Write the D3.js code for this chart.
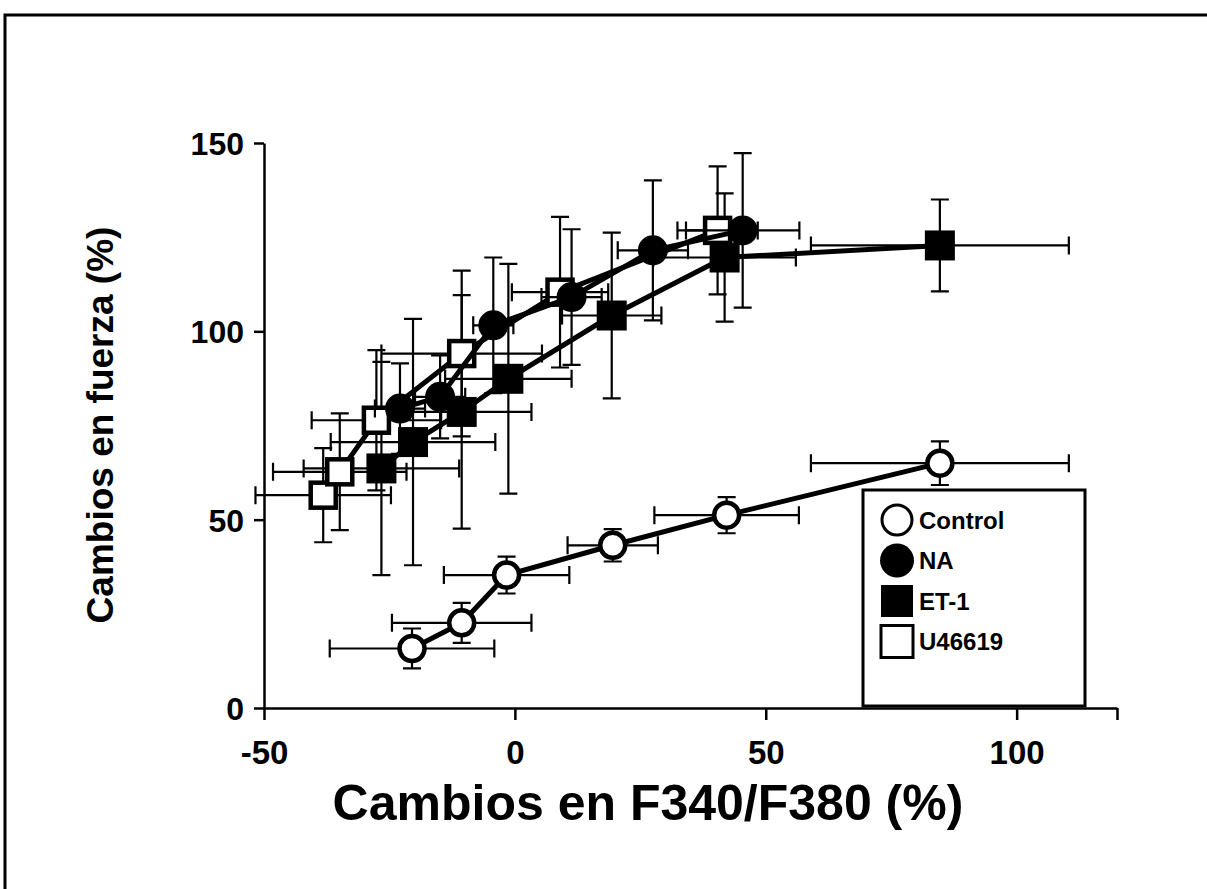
<!DOCTYPE html>
<html><head><meta charset="utf-8">
<script src="https://cdn.jsdelivr.net/npm/d3@7"></script>
<style>body{margin:0;background:#fff}svg{display:block}text{font-family:"Liberation Sans",Arial,sans-serif;font-weight:bold;fill:#000}</style>
</head><body>
<script>
// Data: [x, y, xErr, yErr]
const controlData = [[-20.5,15.8,16.4,5.3],[-10.6,22.6,13.9,5.3],[-1.65,35.3,12.5,4.9],[19.5,43.2,9,4.3],[42.2,51.2,14.4,4.8],[84.7,65.0,25.7,5.8]];
const naData = [[-22.9,79.5,5,12],[-14.9,82.6,5,11],[-4.3,101.6,4,18],[11.3,109.1,6,18],[27.5,121.5,7,18.6],[45.4,126.8,11.3,20.5]];
const et1Data = [[-26.6,63.6,15.5,28.3],[-20.3,70.6,16.4,32.7],[-10.6,78.6,13.9,31],[-1.3,87.4,12.6,30.5],[19.3,104.2,9.9,22],[41.8,119.6,14.2,17],[84.7,122.8,25.7,12.2]];
const u46619Data = [[-38.2,56.5,13.5,12.5],[-34.9,62.7,13.3,15.5],[-27.6,76.4,12.9,18.6],[-10.6,94.1,16,22],[9.0,110.4,9.6,20],[40.4,126.8,8,17]];
const xTicks = [-50,0,50,100];
const yTicks = [0,50,100,150];
const seriesNames = ["Control","NA","ET-1","U46619"];
const xLabel = "Cambios en F340/F380 (%)";
const yLabel = "Cambios en fuerza (%)";

const W=1207,H=889;
const svg=d3.select("body").append("svg").attr("width",W).attr("height",H);
svg.append("path").attr("d","M5,889V15H1207").attr("fill","none").attr("stroke","#000").attr("stroke-width",3);

const x=d3.scaleLinear().domain([-50,120]).range([264,1117]);
const y=d3.scaleLinear().domain([0,150]).range([708,143]);

const xAxis=svg.append("g").attr("transform","translate(0,708)")
  .call(d3.axisBottom(x).tickValues([...xTicks,120]).tickSize(12).tickSizeOuter(0).tickFormat(d=>xTicks.includes(d)?d:""));
const yAxis=svg.append("g").attr("transform","translate(264,0)")
  .call(d3.axisLeft(y).tickValues(yTicks).tickSize(10).tickSizeOuter(0));
[xAxis,yAxis].forEach(a=>{a.select(".domain").attr("stroke","#000").attr("stroke-width",2.5);
  a.selectAll(".tick line").attr("stroke","#000").attr("stroke-width",2.5);
  a.selectAll("text").style("font-family",'"Liberation Sans",Arial,sans-serif').style("font-weight","bold").attr("fill","#000");});
xAxis.selectAll("text").attr("font-size",33).attr("dy",null).attr("y",56);
yAxis.selectAll("text").attr("font-size",32).attr("x",-20).attr("dy","0.36em");

svg.append("text").attr("x",648).attr("y",820).attr("text-anchor","middle").attr("font-size",50).text(xLabel);
svg.append("text").attr("transform","translate(113,425) rotate(-90)").attr("text-anchor","middle").attr("font-size",37).text(yLabel);

const cap=9;
function drawSeries(data,shape,fill){
  const g=svg.append("g");
  const eb=g.append("g").attr("stroke","#000").attr("stroke-width",2.2).attr("fill","none");
  data.forEach(d=>{
    const cx=x(d[0]),cy=y(d[1]),x0=x(d[0]-d[2]),x1=x(d[0]+d[2]),y0=y(d[1]-d[3]),y1=y(d[1]+d[3]);
    eb.append("path").attr("d",`M${x0},${cy}H${x1}M${x0},${cy-cap}V${cy+cap}M${x1},${cy-cap}V${cy+cap}M${cx},${y0}V${y1}M${cx-cap},${y0}H${cx+cap}M${cx-cap},${y1}H${cx+cap}`);
  });
  g.append("path").attr("d",d3.line().x(d=>x(d[0])).y(d=>y(d[1]))(data)).attr("fill","none").attr("stroke","#000").attr("stroke-width",5);
  data.forEach(d=>{
    if(shape==="circle") g.append("circle").attr("cx",x(d[0])).attr("cy",y(d[1])).attr("r",fill?15:12.5).attr("fill",fill?"#000":"#fff").attr("stroke","#000").attr("stroke-width",fill?0:4.5);
    else { const s=fill?30:25; g.append("rect").attr("x",x(d[0])-s/2).attr("y",y(d[1])-s/2).attr("width",s).attr("height",s).attr("fill",fill?"#000":"#fff").attr("stroke","#000").attr("stroke-width",fill?0:4.5);}
  });
}
drawSeries(controlData,"circle",false);
drawSeries(et1Data,"square",true);
drawSeries(u46619Data,"square",false);
drawSeries(naData,"circle",true);

const lg=svg.append("g");
lg.append("rect").attr("x",863).attr("y",490).attr("width",222).attr("height",216).attr("fill","#fff").attr("stroke","#000").attr("stroke-width",3);
const items=[["circle",false],["circle",true],["square",true],["square",false]];
items.forEach((it,i)=>{
  const cy=520+i*40.5, cx=897;
  if(it[0]==="circle") lg.append("circle").attr("cx",cx).attr("cy",cy).attr("r",it[1]?17:15).attr("fill",it[1]?"#000":"#fff").attr("stroke","#000").attr("stroke-width",it[1]?0:3);
  else lg.append("rect").attr("x",cx-16).attr("y",cy-16).attr("width",32).attr("height",32).attr("fill",it[1]?"#000":"#fff").attr("stroke","#000").attr("stroke-width",it[1]?0:3);
  lg.append("text").attr("x",919).attr("y",cy).attr("dy","0.36em").attr("font-size",24).text(seriesNames[i]);
});
</script>
</body></html>
